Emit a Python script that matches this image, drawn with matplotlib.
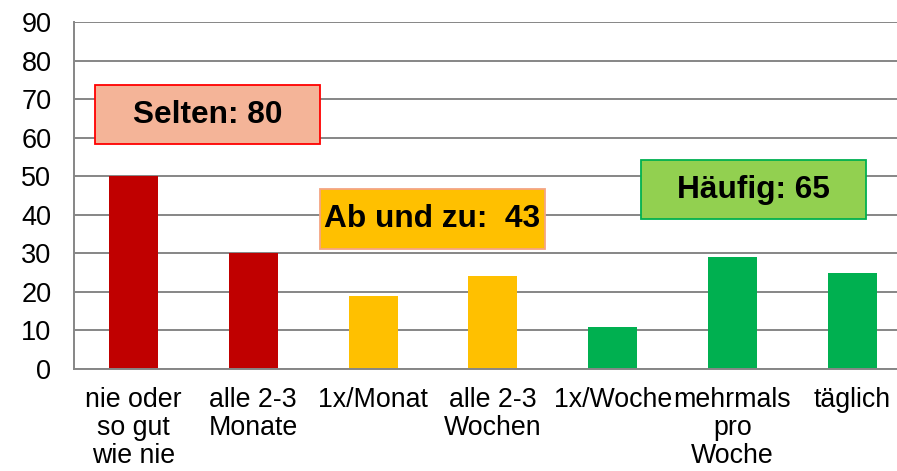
import matplotlib.pyplot as plt
from matplotlib.patches import Rectangle

plt.rcParams['font.family'] = ['Liberation Sans', 'DejaVu Sans']

kategorien = ["nie oder\nso gut\nwie nie", "alle 2-3\nMonate", "1x/Monat",
              "alle 2-3\nWochen", "1x/Woche", "mehrmals\npro\nWoche", "täglich"]
werte = [50, 30, 19, 24, 11, 29, 25]
farben = ["#C00000", "#C00000", "#FFC000", "#FFC000", "#00B050", "#00B050", "#00B050"]

# Gruppen: Text, x-Bereich (in Kategorien), y-Bereich, Füllung, Rand
gruppen = [
    ("Selten: 80", -0.32, 1.557, 58.3, 73.6, "#F4B498", "#FF0000"),
    ("Ab und zu:  43", 1.557, 3.435, 31.1, 46.6, "#FFC000", "#F4A582"),
    ("Häufig: 65", 4.24, 6.115, 38.9, 54.2, "#92D050", "#00B050"),
]

fig = plt.figure(figsize=(8.97, 4.71), dpi=100)
ax = fig.add_axes([73.6/897, 102/471, 838.6/897, 347/471])

x = range(len(werte))
ax.bar(x, werte, width=0.41, color=farben, zorder=2)

for text, x0, x1, y0, y1, fc, ec in gruppen:
    ax.add_patch(Rectangle((x0, y0), x1 - x0, y1 - y0, facecolor=fc,
                           edgecolor=ec, linewidth=1.3, zorder=3))
    ax.text((x0 + x1) / 2, (y0 + y1) / 2, text, ha="center", va="center",
            fontsize=22.8, fontweight="bold", zorder=4)

ax.set_xlim(-0.5, 6.5)
ax.set_ylim(0, 90)
ax.set_yticks(range(0, 91, 10))
ax.set_xticks(list(x))
ax.set_xticklabels(kategorien, fontsize=19.3, linespacing=1.1)
ax.tick_params(axis="y", labelsize=19.5, length=0, pad=16)
ax.tick_params(axis="x", length=0, pad=13)
ax.grid(axis="y", color="#868686", linewidth=1.4, zorder=1)
ax.set_axisbelow(True)
for s in ["top", "right"]:
    ax.spines[s].set_visible(False)
for s in ["left", "bottom"]:
    ax.spines[s].set_color("#868686")
    ax.spines[s].set_linewidth(1.4)

fig.savefig("out.png", dpi=100)
